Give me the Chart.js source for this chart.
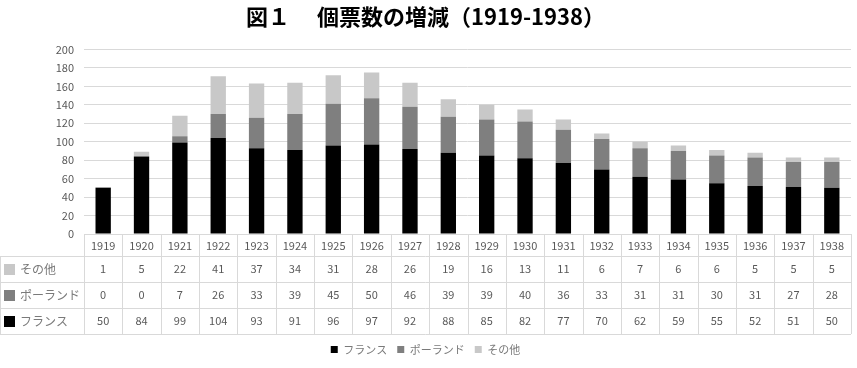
<!DOCTYPE html>
<html>
<head>
<meta charset="utf-8">
<script src="https://cdn.jsdelivr.net/npm/chart.js@4/dist/chart.umd.min.js"></script>
<style>
  html, body { margin: 0; padding: 0; background: #fff; }
  #wrap { width: 857px; height: 368px; }
</style>
</head>
<body>
<div id="wrap"><canvas id="chart"></canvas></div>
<script>
// 年次ごとの個票数
const years = ['1919', '1920', '1921', '1922', '1923', '1924', '1925', '1926', '1927', '1928',
               '1929', '1930', '1931', '1932', '1933', '1934', '1935', '1936', '1937', '1938'];
const france = [50, 84, 99, 104, 93, 91, 96, 97, 92, 88, 85, 82, 77, 70, 62, 59, 55, 52, 51, 50];
const poland = [0, 0, 7, 26, 33, 39, 45, 50, 46, 39, 39, 40, 36, 33, 31, 31, 30, 31, 27, 28];
const others = [1, 5, 22, 41, 37, 34, 31, 28, 26, 19, 16, 13, 11, 6, 7, 6, 6, 5, 5, 5];

const FONT = '"Noto Sans CJK JP", "Noto Sans", sans-serif';
const TEXT = '#595959';
const LINE = '#d9d9d9';

const colors = { france: '#000000', poland: '#7f7f7f', others: '#c8c8c8' };

// データテーブル（グラフ下の表）を描くプラグイン
const dataTable = {
    id: 'dataTable',
    afterDraw(chart) {
        const ctx = chart.ctx;
        const x = chart.scales.x;
        const area = chart.chartArea;
        const top = area.bottom;
        const headH = 22, rowH = 26;
        const rows = [
            { label: 'その他', color: colors.others, data: others },
            { label: 'ポーランド', color: colors.poland, data: poland },
            { label: 'フランス', color: colors.france, data: france }
        ];
        const step = x.getPixelForValue(1) - x.getPixelForValue(0);
        const left = area.left, right = area.right;
        const bottom = top + headH + rowH * rows.length;

        ctx.save();
        ctx.strokeStyle = LINE;
        ctx.lineWidth = 1;
        ctx.beginPath();
        // 横線
        ctx.moveTo(left, top + 0.5); ctx.lineTo(right, top + 0.5);
        for (let r = 0; r <= rows.length; r++) {
            const yy = Math.round(top + headH + rowH * r) + 0.5;
            ctx.moveTo(0, yy); ctx.lineTo(right, yy);
        }
        // 縦線
        for (let i = 0; i <= years.length; i++) {
            const xx = Math.round(x.getPixelForValue(i) - step / 2) + 0.5;
            ctx.moveTo(xx, top); ctx.lineTo(xx, bottom);
        }
        ctx.moveTo(0.5, top + headH); ctx.lineTo(0.5, bottom);
        ctx.stroke();

        ctx.fillStyle = TEXT;
        ctx.font = '11px ' + FONT;
        ctx.textAlign = 'center';
        ctx.textBaseline = 'middle';
        years.forEach((yr, i) => {
            ctx.fillText(yr, x.getPixelForValue(i), top + headH / 2 + 1);
        });
        rows.forEach((row, r) => {
            const cy = top + headH + rowH * r + rowH / 2;
            ctx.fillStyle = row.color;
            ctx.fillRect(4, cy - 5, 11, 11);
            ctx.fillStyle = '#7a7a7a';
            ctx.textAlign = 'left';
            ctx.font = '12px ' + FONT;
            ctx.fillText(row.label, 20, cy);
            ctx.fillStyle = TEXT;
            ctx.textAlign = 'center';
            ctx.font = '11px ' + FONT;
            row.data.forEach((v, i) => ctx.fillText(String(v), x.getPixelForValue(i), cy));
        });
        ctx.restore();
    }
};

new Chart(document.getElementById('chart'), {
    type: 'bar',
    data: {
        labels: years,
        datasets: [
            { label: 'フランス', data: france, backgroundColor: colors.france },
            { label: 'ポーランド', data: poland, backgroundColor: colors.poland },
            { label: 'その他', data: others, backgroundColor: colors.others }
        ]
    },
    options: {
        responsive: true,
        maintainAspectRatio: false,
        animation: false,
        layout: { padding: { left: 0, right: 6, bottom: 3 } },
        datasets: { bar: { categoryPercentage: 1, barPercentage: 0.4 } },
        plugins: {
            title: {
                display: true,
                text: '図１　 個票数の増減（1919-1938）',
                color: '#000',
                font: { family: FONT, size: 22, weight: 'bold' },
                padding: { top: 3, bottom: 20 }
            },
            legend: {
                position: 'bottom',
                labels: {
                    color: '#7a7a7a',
                    boxWidth: 7,
                    boxHeight: 7,
                    padding: 10,
                    font: { family: FONT, size: 11 }
                }
            },
            tooltip: { enabled: false }
        },
        scales: {
            x: {
                stacked: true,
                grid: { display: false },
                border: { display: false },
                ticks: { display: false },
                afterFit: scale => { scale.height = 100; }
            },
            y: {
                stacked: true,
                min: 0,
                max: 200,
                ticks: { stepSize: 20, color: TEXT, padding: 10, font: { family: FONT, size: 11 } },
                grid: { color: LINE, drawTicks: false },
                border: { display: false },
                afterFit: scale => { scale.width = 84; }
            }
        }
    },
    plugins: [dataTable]
});
</script>
</body>
</html>
